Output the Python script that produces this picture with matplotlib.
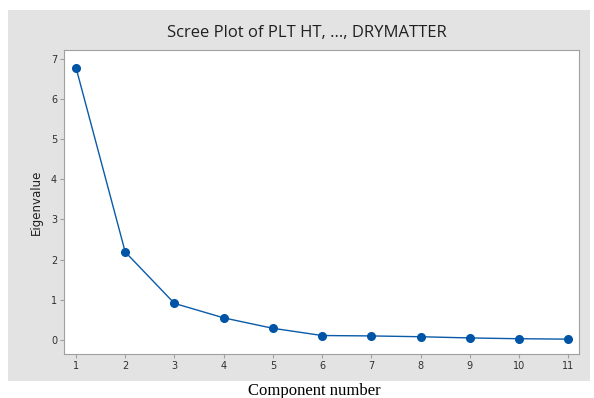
import matplotlib
matplotlib.use("Agg")
import matplotlib.pyplot as plt

components = [1, 2, 3, 4, 5, 6, 7, 8, 9, 10, 11]
eigenvalues = [6.78, 2.19, 0.91, 0.55, 0.29, 0.11, 0.10, 0.08, 0.05, 0.03, 0.02]
yticks = [0, 1, 2, 3, 4, 5, 6, 7]

W, H = 594, 398
fig = plt.figure(figsize=(W / 100, H / 100), dpi=100)
fig.patch.set_facecolor("white")

# gray background panel
bg = fig.add_axes([8 / W, 1 - 381 / H, (590 - 8) / W, (381 - 10) / H], zorder=-5)
bg.set_facecolor("#e3e3e3")
bg.set_xticks([])
bg.set_yticks([])
for s in bg.spines.values():
    s.set_visible(False)

ax = fig.add_axes([64 / W, 1 - 354 / H, (579 - 64) / W, (354 - 50) / H], zorder=1)
ax.set_facecolor("white")
ax.plot(components, eigenvalues, color="#0a5aa8", lw=1.0, marker="o",
        markersize=5.5, markerfacecolor="#0054a6", markeredgecolor="#0054a6")

ax.set_xlim(0.756, 11.22)
ax.set_ylim(-0.35, 7.22)
ax.set_xticks(components)
ax.set_yticks(yticks)
ax.tick_params(axis="both", labelsize=7, colors="#a0a0a0", labelcolor="#303030",
               length=3, width=0.8, pad=2)
for s in ax.spines.values():
    s.set_color("#a0a0a0")
    s.set_linewidth(0.8)

ax.set_ylabel("Eigenvalue", fontsize=8.5, color="#202020", labelpad=6)
fig.text(307 / W, 1 - 33 / H, "Scree Plot of PLT HT, ..., DRYMATTER", ha="center",
         va="center", fontsize=12, color="#202020", family="Open Sans")
fig.text(314 / W, 1 - 391 / H, "Component number", ha="center", va="center",
         fontsize=12, color="#000000", family="Liberation Serif")

fig.savefig("out.png", dpi=100, facecolor="white")
